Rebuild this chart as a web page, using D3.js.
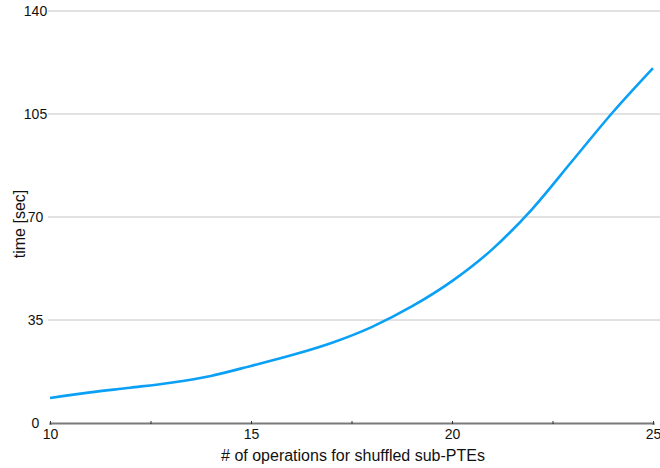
<!DOCTYPE html>
<style>
body { margin: 0; background: #fff; }
text { font-family: "Liberation Sans", Arial, sans-serif; fill: #111; }
</style>
<svg width="660" height="468"></svg>
<script src="https://d3js.org/d3.v7.min.js"></script>
<script>

var ops = [10, 11, 12, 13, 14, 15, 16, 17, 18, 19, 20, 21, 22, 23, 24, 25];
var times = [8.5, 10.4, 12.0, 13.7, 16.0, 19.4, 23.0, 27.2, 32.6, 39.6, 48.2, 59.0, 72.8, 89.2, 105.6, 120.6];
var yTicks = [0, 35, 70, 105, 140];
var xTicks = [10, 15, 20, 25];

var svg = d3.select("svg"),
    margin = {top: 11, right: 7, bottom: 45, left: 50},
    width = +svg.attr("width") - margin.left - margin.right,
    height = +svg.attr("height") - margin.top - margin.bottom,
    g = svg.append("g").attr("transform", "translate(" + margin.left + "," + margin.top + ")");

var x = d3.scaleLinear().domain([10, 25]).range([0, width]);
var y = d3.scaleLinear().domain([0, 140]).range([height, 0]);

// grid lines
g.append("g")
  .selectAll("line")
  .data(yTicks.slice(1))
  .enter().append("line")
    .attr("x1", -2)
    .attr("x2", 660)
    .attr("y1", function(d) { return y(d); })
    .attr("y2", function(d) { return y(d); })
    .attr("stroke", "#c4c4c4")
    .attr("stroke-width", 1);

g.selectAll(".ylab")
  .data(yTicks)
  .enter().append("text")
    .attr("x", -14.5)
    .attr("y", function(d) { return y(d); })
    .attr("dy", "0.35em")
    .attr("text-anchor", "middle")
    .attr("font-size", 14)
    .text(function(d) { return d; });

// x axis
var xAxis = g.append("g")
    .attr("transform", "translate(0," + height + ")")
    .call(d3.axisBottom(x).tickValues(d3.range(10, 25.1, 2.5)).tickSize(2).tickFormat(function(d) { return xTicks.indexOf(d) >= 0 ? d : ""; }));
xAxis.select(".domain").attr("stroke", "#7a7a7a").attr("stroke-width", 2.2);
xAxis.selectAll(".tick line").attr("stroke", "#333").attr("y1", -2).attr("y2", 1);
xAxis.selectAll(".tick text")
    .attr("font-size", 14)
    .attr("font-family", "Liberation Sans, Arial, sans-serif")
    .attr("fill", "#111")
    .attr("y", 6);

var line = d3.line()
    .x(function(d, i) { return x(ops[i]); })
    .y(function(d) { return y(d); })
    .curve(d3.curveMonotoneX);

g.append("path")
    .datum(times)
    .attr("fill", "none")
    .attr("stroke", "#0aa0f5")
    .attr("stroke-width", 2.6)
    .attr("d", line);

svg.append("text")
    .attr("transform", "translate(25,224) rotate(-90)")
    .attr("text-anchor", "middle")
    .attr("font-size", 16)
    .text("time [sec]");

svg.append("text")
    .attr("x", 353)
    .attr("y", 461)
    .attr("text-anchor", "middle")
    .attr("font-size", 16)
    .text("# of operations for shuffled sub-PTEs");

</script>
